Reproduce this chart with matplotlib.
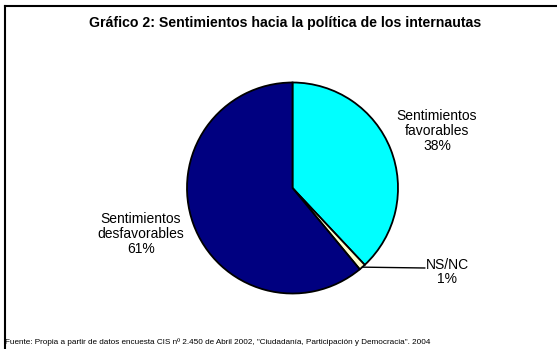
import numpy as np
import matplotlib.pyplot as plt
from matplotlib.lines import Line2D

plt.rcParams['font.family'] = ['Liberation Sans', 'DejaVu Sans']

labels = ['Sentimientos\nfavorables', 'NS/NC', 'Sentimientos\ndesfavorables']
values = [38, 1, 61]
colors = ['#00FFFF', '#FFFFCC', '#000080']
title = 'Gráfico 2: Sentimientos hacia la política de los internautas'
source = ('Fuente: Propia a partir de datos encuesta CIS nº 2.450 de Abril 2002, '
          '"Ciudadanía, Participación y Democracia". 2004')

W, H = 557, 349
fig = plt.figure(figsize=(W / 100, H / 100), dpi=100)

def px(x, y):
    # pixel position (from top-left) -> figure fraction
    return x / W, 1 - y / H

# pie axes
cx, cy, r = 292.5, 188, 105.5
ax = fig.add_axes([(cx - r) / W, (H - cy - r) / H, 2 * r / W, 2 * r / H])
wedges, _ = ax.pie(values, colors=colors, startangle=90, counterclock=False,
                   wedgeprops=dict(edgecolor='black', linewidth=1.3))
ax.set_xlim(-1, 1)
ax.set_ylim(-1, 1)
ax.set_aspect('equal')
ax.axis('off')

# labels
label_pos = [(437, 131), (447, 272), (141, 234)]
for lab, v, (x, y) in zip(labels, values, label_pos):
    fig.text(*px(x, y), f'{lab}\n{v}%', ha='center', va='center',
             fontsize=10, linespacing=1.05)

# leader line for NS/NC
w = wedges[1]
ang = np.deg2rad((w.theta1 + w.theta2) / 2)
ex, ey = np.cos(ang), np.sin(ang)
ax.annotate('', xy=(ex, ey), xytext=(425, H - 268), textcoords='figure pixels',
            arrowprops=dict(arrowstyle='-', color='black', lw=1.0,
                            shrinkA=0, shrinkB=0))

fig.text(*px(285, 23), title, ha='center', va='center', fontsize=10.2,
         fontweight='bold')
fig.text(*px(5, 342), source, ha='left', va='center', fontsize=5.9)

# frame (top and left only)
fig.add_artist(Line2D([5 / W, 1], [1 - 6 / H, 1 - 6 / H], color='black', lw=1.5,
                      transform=fig.transFigure))
fig.add_artist(Line2D([5 / W, 5 / W], [0, 1 - 6 / H], color='black', lw=1.5,
                      transform=fig.transFigure))

fig.savefig('out.png', dpi=100)
